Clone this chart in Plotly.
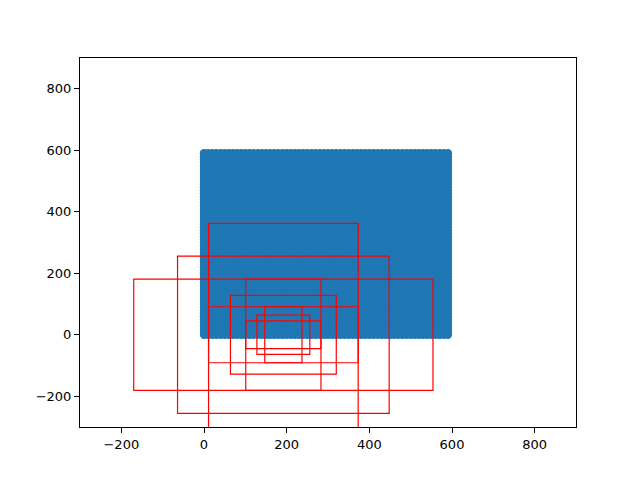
import numpy as np
import plotly.graph_objects as go

# Grid of points (regular lattice)
grid_step = 10
grid_x_values = list(range(0, 600, grid_step))
grid_y_values = list(range(0, 600, grid_step))

# Rectangles (anchor boxes)
rect_x0 = [11, -64, -170, 101, 64, 11, 147, 101, 128]
rect_x1 = [373, 448, 554, 283, 320, 373, 237, 283, 256]
rect_y0 = [-362, -256, -181, -181, -128, -91, -91, -45, -64]
rect_y1 = [362, 256, 181, 181, 128, 91, 91, 45, 64]

tick_vals = [-200, 0, 200, 400, 600, 800]

gx, gy = np.meshgrid(grid_x_values, grid_y_values)

fig = go.Figure()
fig.add_trace(go.Scatter(
    x=gx.ravel(), y=gy.ravel(), mode="markers",
    marker=dict(color="#1f77b4", size=8.4, line=dict(width=0)),
    showlegend=False, hoverinfo="skip",
))

for x0, x1, y0, y1 in zip(rect_x0, rect_x1, rect_y0, rect_y1):
    fig.add_shape(type="rect", xref="x", yref="y", x0=x0, x1=x1, y0=y0, y1=y1,
                  line=dict(color="red", width=1.2), fillcolor="rgba(0,0,0,0)", layer="above")

axis_common = dict(
    showgrid=False, zeroline=False, showline=True, linecolor="black", linewidth=1,
    mirror=True, ticks="outside", ticklen=5, tickwidth=1, tickcolor="black",
    tickfont=dict(family="DejaVu Sans", size=13, color="black"),
    tickvals=tick_vals, ticktext=[f"\u2212{abs(v)}" if v < 0 else str(v) for v in tick_vals],
)

fig.update_xaxes(range=[-300, 900], **axis_common)
fig.update_yaxes(range=[-300, 900], **axis_common)

fig.update_layout(
    width=640, height=480,
    margin=dict(l=72, r=72, t=50, b=61),
    plot_bgcolor="white", paper_bgcolor="white",
)

fig.write_html("out.html")
